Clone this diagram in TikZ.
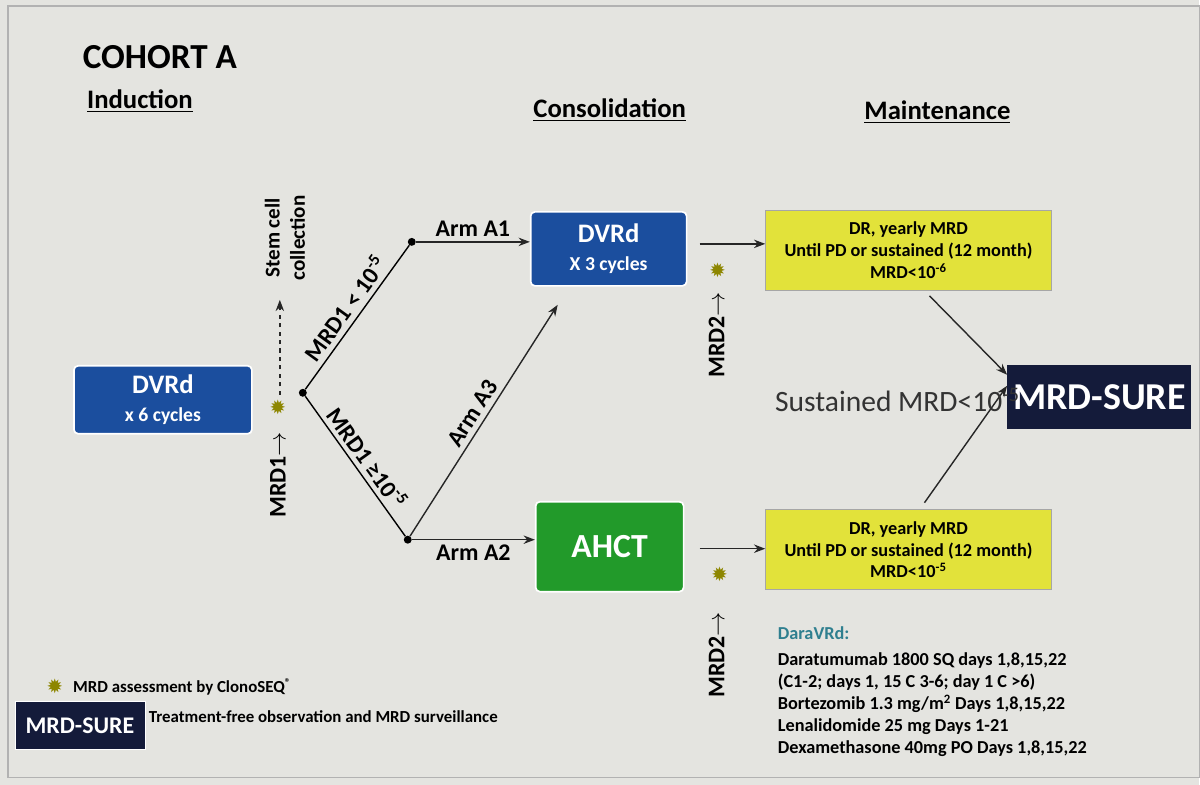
\documentclass[tikz,border=0pt]{standalone}
\usepackage{fontspec}
\setmainfont{Carlito}
\newfontfamily\symfont{DejaVu Sans}
\newcommand\mrdstar{{\symfont ✹}}
\newcommand\fs[1]{\fontsize{#1}{1.2\dimexpr#1pt\relax}\selectfont}
\usetikzlibrary{positioning,arrows.meta}
\definecolor{bg}{HTML}{E4E4E0}
\definecolor{dvblue}{HTML}{1B4E9E}
\definecolor{ahgreen}{HTML}{229A2A}
\definecolor{ylw}{HTML}{E2E23A}
\definecolor{navy}{HTML}{141B3A}
\definecolor{dara}{HTML}{2F7F8F}
\tikzset{
  box/.style={draw=white,line width=1.2pt,rounded corners=3pt,text=white,font=\bfseries\fs{19},align=center,inner sep=0pt},
  ybox/.style={draw=gray!70,fill=ylw,font=\bfseries\fs{13},align=center,inner sep=0pt,minimum width=7.15cm,minimum height=2cm},
  arr/.style={-{Stealth[length=8pt]},line width=1pt,draw=black!85},
  dot/.style={circle,fill=black,inner sep=2pt},
  star/.style={text=olive,font=\fs{14}},
  lbl/.style={font=\bfseries\fs{17}},
}
\begin{document}
\begin{tikzpicture}[x=0.025cm,y=-0.025cm]
\fill[bg] (0,0) rectangle (1200,785);
\draw[gray!60,line width=1pt] (8,6) rectangle (1200,778);

% headings
\node[font=\bfseries\fs{25}] (title) at (160,57) {COHORT A};
\node[font=\bfseries\fs{19}] (ind) at (140,101) {\underline{Induction}};
\node[font=\bfseries\fs{19}] (cons) at (610,110) {\underline{Consolidation}};
\node[font=\bfseries\fs{19}] (maint) at (938,112) {\underline{Maintenance}};

% induction
\node[box,fill=dvblue,minimum width=4.45cm,minimum height=1.7cm] (ind6) at (163,400) {DVRd\\[-3pt]{\fs{14}x 6 cycles}};
\node[rotate=90,lbl] (mrd1) at (278,475) {MRD1$\rightarrow$};
\node[star] (s1) at (278,408) {\mrdstar};
\coordinate (sc0) at (280,395);
\coordinate (sc1) at (280,300);
\draw[arr,dashed] (sc0) -- (sc1);
\node[rotate=90,font=\bfseries\fs{15},align=center] (stem) at (285,238) {Stem cell\\collection};

% branching
\node[dot] (split) at (303,393) {};
\node[dot] (up) at (412,242) {};
\node[dot] (dn) at (408,540) {};
\draw[line width=1pt] (split) -- node[sloped,above,lbl] {MRD1 < 10\textsuperscript{-5}} (up);
\draw[line width=1pt] (split) -- node[sloped,above,lbl] {MRD1 ≥10\textsuperscript{-5}} (dn);

% consolidation
\node[box,fill=dvblue,minimum width=3.9cm,minimum height=1.85cm] (cons3) at (609,249) {DVRd\\[-3pt]{\fs{14}X 3 cycles}};
\node[box,fill=ahgreen,minimum width=3.7cm,minimum height=2.25cm,font=\bfseries\fs{24}] (ahct) at (610,547) {AHCT};
\draw[arr] (up) -- node[above,lbl] {Arm A1} (cons3.west |- up);
\draw[arr] (dn) -- node[below,lbl] {Arm A2} (ahct.west |- dn);
\coordinate (a3) at (558,305);
\draw[arr] (dn) -- node[sloped,above,lbl] {Arm A3} (a3);

% maintenance
\node[ybox] (y1) at (909,250) {DR, yearly MRD\\Until PD or sustained (12 month)\\MRD<10\textsuperscript{-6}};
\node[ybox] (y2) at (909,550) {DR, yearly MRD\\Until PD or sustained (12 month)\\MRD<10\textsuperscript{-5}};
\coordinate (c1) at (700,244);
\coordinate (c2) at (700,549);
\draw[arr] (c1) -- (y1.west |- c1);
\draw[arr] (c2) -- (y2.west |- c2);
\node[star] (s2) at (718,270) {\mrdstar};
\node[star] (s3) at (720,575) {\mrdstar};
\node[rotate=90,lbl] (mrd2a) at (717,335) {MRD2$\rightarrow$};
\node[rotate=90,lbl] (mrd2b) at (717,655) {MRD2$\rightarrow$};

\node[fill=navy,text=white,font=\bfseries\fs{27},minimum width=4.6cm,minimum height=1.6cm] (sure) at (1100,397) {MRD-SURE};
\coordinate (f1) at (930,296);
\coordinate (f2) at (925,503);
\draw[arr] (f1) -- (sure.west |- 0,375);
\draw[arr] (f2) -- (sure.west |- 0,386);
\node[font=\fs{21},text=black!80] (sust) at (898,400) {Sustained MRD<10\textsuperscript{-5}};

% legend
\node[star] (s4) at (55,687) {\mrdstar};
\node[anchor=west,font=\bfseries\fs{12}] (leg1) at (s4.east) {MRD assessment by ClonoSEQ\textsuperscript{\textregistered}};
\node[fill=navy,text=white,font=\bfseries\fs{17},draw=white,minimum width=3.25cm,minimum height=1.2cm] (sure2) at (80,726) {MRD-SURE};
\node[anchor=west,font=\bfseries\fs{12}] (leg2) at (144,717) {Treatment-free observation and MRD surveillance};

\node[anchor=north west,font=\bfseries\fs{13},align=left,inner sep=0pt] (drugs) at (778,627)
  {\textcolor{dara}{DaraVRd:}\\[3pt]
   Daratumumab 1800 SQ days 1,8,15,22\\
   (C1-2; days 1, 15 C 3-6; day 1 C >6)\\
   Bortezomib 1.3 mg/m\textsuperscript{2} Days 1,8,15,22\\
   Lenalidomide 25 mg Days 1-21\\
   Dexamethasone 40mg PO Days 1,8,15,22};
\end{tikzpicture}
\end{document}
